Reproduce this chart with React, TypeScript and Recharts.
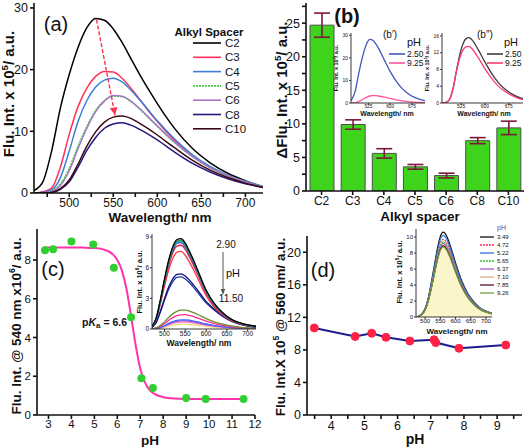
import React from 'react';
import { LineChart, Line, XAxis, YAxis, BarChart, Bar, ErrorBar, ComposedChart, Scatter, Area } from 'recharts';

const W = 524;
const H = 447;
const FONT = '"Liberation Sans", Arial, Helvetica, sans-serif';

// ---------- Panel (a): emission spectra vs alkyl spacer ----------
const WL_A = [460, 470, 480, 490, 500, 510, 520, 530, 540, 550, 560, 570, 580, 590, 600, 620, 640, 660, 680, 700, 720];
const A_C2 = [0.4, 1.8, 6.8, 13.8, 19.2, 23.6, 26.8, 28.3, 28.0, 26.6, 24.4, 21.8, 19.2, 16.8, 14.5, 10.4, 7.2, 4.9, 3.2, 2.0, 1.0];
const A_C3 = [0, 0.2, 0.8, 4.2, 9.5, 14.0, 17.0, 18.9, 19.7, 19.6, 18.6, 17.0, 15.2, 13.3, 11.6, 8.5, 6.0, 4.1, 2.8, 1.8, 1.0];
const A_C4 = [0, 0.1, 0.5, 2.5, 6.8, 11.6, 15.0, 17.2, 18.3, 18.6, 18.0, 16.7, 15.1, 13.4, 11.7, 8.7, 6.2, 4.3, 2.9, 1.9, 1.1];
const A_C5 = [0, 0, 0.3, 1.5, 4.0, 7.6, 10.8, 13.4, 15.0, 15.7, 15.6, 14.8, 13.6, 12.2, 10.8, 8.1, 5.9, 4.1, 2.8, 1.8, 1.0];
const A_C6 = [0, 0, 0.2, 1.2, 3.6, 7.2, 10.5, 13.2, 14.9, 15.8, 15.7, 14.9, 13.7, 12.3, 10.9, 8.2, 5.9, 4.1, 2.8, 1.8, 1.0];
const A_C8 = [0, 0, 0.1, 0.6, 1.8, 4.2, 6.9, 9.0, 10.5, 11.2, 11.4, 11.0, 10.3, 9.5, 8.6, 6.6, 4.8, 3.4, 2.3, 1.5, 0.9];
const A_C10 = [0, 0, 0.1, 0.7, 2.1, 4.7, 7.6, 9.9, 11.5, 12.3, 12.5, 12.1, 11.3, 10.4, 9.4, 7.3, 5.3, 3.7, 2.5, 1.6, 0.9];
const A_NAMES = ['C2', 'C3', 'C4', 'C5', 'C6', 'C8', 'C10'];
const A_VALUES = [A_C2, A_C3, A_C4, A_C5, A_C6, A_C8, A_C10];
const A_COLORS = ['#000000', '#ff3158', '#3b7fd8', '#3ccf3c', '#a874c8', '#26157c', '#3c0a14'];
const A_DASH = ['', '', '', '2 1', '', '', ''];
const A_ARROW_WL = [531, 552];
const A_ARROW_Y = [28.1, 12.6];
const A_XTICKS = [475, 500, 525, 550, 575, 600, 625, 650, 675, 700];
const A_YTICKS = [0, 10, 20, 30];

// ---------- Panel (b): bar chart ----------
const B_CATS = ['C2', 'C3', 'C4', 'C5', 'C6', 'C8', 'C10'];
const B_VALS = [24.7, 9.9, 5.6, 3.6, 2.3, 7.5, 9.4];
const B_ERR = [1.8, 0.7, 0.7, 0.35, 0.35, 0.45, 1.0];
const B_YTICKS = [0, 2.5, 5, 7.5, 10, 12.5, 15, 17.5, 20, 22.5, 25, 27.5];

// insets b' and b''
const WL_B = [465, 480, 490, 500, 510, 520, 530, 540, 550, 560, 580, 600, 620, 640, 660, 680, 700, 720];
const B1_250 = [1.0, 5.5, 12.0, 18.0, 23.0, 26.6, 28.2, 27.8, 26.3, 24.2, 19.0, 14.0, 9.8, 6.6, 4.3, 2.7, 1.7, 1.0];
const B1_925 = [0, 0.1, 0.5, 1.2, 2.0, 2.6, 3.1, 3.3, 3.3, 3.1, 2.6, 2.0, 1.4, 1.0, 0.6, 0.4, 0.25, 0.15];
const B2_250 = [0, 0.2, 1.0, 3.5, 7.5, 11.2, 13.9, 15.3, 15.6, 15.0, 12.6, 9.8, 7.2, 5.1, 3.5, 2.4, 1.6, 1.0];
const B2_925 = [0, 0.2, 1.1, 3.6, 7.4, 10.5, 12.5, 13.4, 13.5, 12.9, 10.7, 8.2, 6.0, 4.2, 2.9, 2.0, 1.3, 0.8];
const B_INSET_XTICKS = [525, 600, 675];

// ---------- Panel (c): pH titration ----------
const C_PH = [2.85, 3.2, 4.0, 4.95, 5.85, 6.6, 7.05, 7.55, 9.0, 9.85, 11.5];
const C_INT = [8.5, 8.55, 8.95, 8.8, 7.6, 5.05, 1.9, 1.4, 0.88, 0.82, 0.82];
const C_FIT_PH = [2.8, 3.5, 4, 4.5, 5, 5.4, 5.8, 6.0, 6.2, 6.4, 6.6, 6.8, 7.0, 7.2, 7.4, 7.6, 8.0, 8.5, 9, 10, 11.5];
const C_FIT_V = [8.65, 8.65, 8.65, 8.64, 8.62, 8.55, 8.3, 8.0, 7.45, 6.5, 5.1, 3.6, 2.4, 1.7, 1.3, 1.1, 0.92, 0.85, 0.83, 0.82, 0.82];

// inset c spectra
const WL_C = [470, 480, 490, 500, 510, 520, 530, 540, 550, 560, 570, 580, 600, 620, 640, 660, 680, 700, 720];
const C_S1 = [0.27, 1.06, 2.83, 4.87, 6.73, 8.05, 8.76, 8.85, 8.41, 7.61, 6.73, 5.75, 3.81, 2.48, 1.59, 0.97, 0.62, 0.40, 0.27];
const C_S2 = [0.26, 1.04, 2.78, 4.79, 6.61, 7.92, 8.61, 8.70, 8.27, 7.48, 6.61, 5.66, 3.74, 2.44, 1.57, 0.96, 0.61, 0.39, 0.26];
const C_S3 = [0.26, 1.03, 2.75, 4.73, 6.54, 7.83, 8.51, 8.60, 8.17, 7.40, 6.54, 5.59, 3.70, 2.41, 1.55, 0.95, 0.60, 0.39, 0.26];
const C_S4 = [0.25, 1.01, 2.70, 4.65, 6.42, 7.69, 8.37, 8.45, 8.03, 7.27, 6.42, 5.49, 3.63, 2.37, 1.52, 0.93, 0.59, 0.38, 0.25];
const C_S5 = [0.25, 0.98, 2.62, 4.51, 6.23, 7.46, 8.12, 8.20, 7.79, 7.05, 6.23, 5.33, 3.53, 2.30, 1.48, 0.90, 0.57, 0.37, 0.25];
const C_S6 = [0.23, 0.91, 2.43, 4.18, 5.78, 6.92, 7.52, 7.60, 7.22, 6.54, 5.78, 4.94, 3.27, 2.13, 1.37, 0.84, 0.53, 0.34, 0.23];
const C_S7 = [0.16, 0.65, 1.73, 2.97, 4.10, 4.91, 5.35, 5.40, 5.18, 4.78, 4.30, 3.78, 2.70, 1.94, 1.30, 0.81, 0.50, 0.31, 0.20];
const C_S8 = [0.15, 0.61, 1.63, 2.81, 3.88, 4.64, 5.05, 5.10, 4.90, 4.52, 4.07, 3.58, 2.56, 1.84, 1.23, 0.77, 0.47, 0.29, 0.19];
const C_S9 = [0.03, 0.12, 0.35, 0.70, 1.12, 1.48, 1.73, 1.84, 1.85, 1.76, 1.60, 1.42, 1.02, 0.70, 0.47, 0.30, 0.19, 0.12, 0.08];
const C_S10 = [0.02, 0.09, 0.27, 0.53, 0.85, 1.12, 1.31, 1.39, 1.40, 1.33, 1.21, 1.07, 0.77, 0.53, 0.35, 0.23, 0.14, 0.09, 0.06];
const C_S11 = [0.01, 0.06, 0.17, 0.34, 0.55, 0.72, 0.84, 0.89, 0.90, 0.86, 0.78, 0.69, 0.50, 0.34, 0.23, 0.15, 0.09, 0.06, 0.04];
const C_S12 = [0.01, 0.05, 0.15, 0.30, 0.48, 0.64, 0.75, 0.79, 0.80, 0.76, 0.69, 0.61, 0.44, 0.30, 0.20, 0.13, 0.08, 0.05, 0.03];
const C_S13 = [0.01, 0.04, 0.12, 0.25, 0.39, 0.52, 0.61, 0.64, 0.65, 0.62, 0.56, 0.50, 0.36, 0.25, 0.17, 0.11, 0.07, 0.04, 0.03];
const C_S14 = [0.01, 0.03, 0.09, 0.17, 0.27, 0.36, 0.42, 0.45, 0.45, 0.43, 0.39, 0.35, 0.25, 0.17, 0.12, 0.07, 0.05, 0.03, 0.02];
const C_SERIES = [C_S14, C_S13, C_S12, C_S11, C_S10, C_S9, C_S8, C_S7, C_S6, C_S5, C_S4, C_S3, C_S2, C_S1];
const C_COLORS = ['#f0e080', '#ff9cc8', '#a040c8', '#4466ff', '#ff2a8a', '#6b8c30', '#1d3aa6', '#12127a', '#ff3040', '#e01a4a', '#3050e0', '#20a0a0', '#2e8b57', '#000000'];

// ---------- Panel (d) ----------
const D_PH = [3.49, 4.72, 5.22, 5.65, 6.37, 7.10, 7.15, 7.85, 9.26];
const D_INT = [10.7, 9.65, 10.05, 9.55, 9.1, 9.25, 8.9, 8.2, 8.6];
const D_XTICKS = [3.5, 4, 4.5, 5, 5.5, 6, 6.5, 7, 7.5, 8, 8.5, 9, 9.5];
const D_YTICKS = [0, 4, 8, 12, 16, 20];

// inset d spectra
const WL_D = [470, 480, 490, 500, 510, 520, 530, 540, 550, 560, 570, 580, 600, 620, 640, 660, 680, 700, 720];
const D_349 = [0, 0.11, 0.42, 1.06, 2.33, 4.24, 6.36, 8.48, 10.07, 10.6, 10.18, 9.22, 6.78, 4.56, 2.97, 1.91, 1.17, 0.74, 0.48];
const D_472 = [0, 0.10, 0.39, 0.97, 2.13, 3.88, 5.82, 7.76, 9.22, 9.7, 9.31, 8.44, 6.21, 4.17, 2.72, 1.75, 1.07, 0.68, 0.44];
const D_522 = [0, 0.10, 0.41, 1.02, 2.24, 4.08, 6.12, 8.16, 9.69, 10.2, 9.79, 8.87, 6.53, 4.39, 2.86, 1.84, 1.12, 0.71, 0.46];
const D_565 = [0, 0.09, 0.38, 0.94, 2.07, 3.76, 5.64, 7.52, 8.93, 9.4, 9.02, 8.18, 6.02, 4.04, 2.63, 1.69, 1.03, 0.66, 0.42];
const D_637 = [0, 0.09, 0.37, 0.92, 2.02, 3.68, 5.52, 7.36, 8.74, 9.2, 8.83, 8.00, 5.89, 3.96, 2.58, 1.66, 1.01, 0.64, 0.41];
const D_710 = [0, 0.09, 0.36, 0.90, 1.98, 3.60, 5.40, 7.20, 8.55, 9.0, 8.64, 7.83, 5.76, 3.87, 2.52, 1.62, 0.99, 0.63, 0.41];
const D_785 = [0, 0.09, 0.36, 0.89, 1.96, 3.56, 5.34, 7.12, 8.46, 8.9, 8.54, 7.74, 5.70, 3.83, 2.49, 1.60, 0.98, 0.62, 0.40];
const D_926 = [0, 0.09, 0.35, 0.88, 1.93, 3.50, 5.25, 7.00, 8.31, 8.75, 8.40, 7.61, 5.60, 3.76, 2.45, 1.58, 0.96, 0.61, 0.39];
const D_NAMES = ['3.49', '4.72', '5.22', '5.65', '6.37', '7.10', '7.85', '9.26'];
const D_VALUES = [D_349, D_472, D_522, D_565, D_637, D_710, D_785, D_926];
const D_COLORS = ['#111111', '#ff2a5a', '#2f72d6', '#2ec42e', '#a85ad0', '#d8b090', '#5a1428', '#6fa040'];
const D_DASH = ['', '2 1', '', '2 1', '', '', '', ''];

// ---------- helpers ----------
const AX = { stroke: '#111', strokeWidth: 1.6 };
const AXS = { stroke: '#222', strokeWidth: 0.9 };
const tk = (fs: number) => ({ fontSize: fs, fill: '#111', fontFamily: FONT });
const mg = (x0: number, y0: number, x1: number, y1: number, yw: number, xh: number) => ({
  left: x0 - yw,
  top: y0,
  right: W - x1,
  bottom: H - y1 - xh,
});

function table(wl: number[], names: string[], vals: number[][]) {
  return wl.map((w, i) => {
    const r: any = { w };
    names.forEach((n, k) => {
      r[n] = vals[k][i];
    });
    return r;
  });
}

const Layer = ({ children }: any) => (
  <div style={{ position: 'absolute', left: 0, top: 0, width: W, height: H }}>{children}</div>
);

const rowsA = table(WL_A, A_NAMES, A_VALUES);
const arrowA = A_ARROW_WL.map((w, i) => ({ w, y: A_ARROW_Y[i] }));
const rowsB = B_CATS.map((c, i) => ({ cat: c, v: B_VALS[i], e: B_ERR[i] }));
const rowsB1 = table(WL_B, ['p250', 'p925'], [B1_250, B1_925]);
const rowsB2 = table(WL_B, ['p250', 'p925'], [B2_250, B2_925]);
const C_KEYS = C_SERIES.map((_, i) => 's' + i);
const rowsC = table(WL_C, C_KEYS, C_SERIES);
const ptsC = C_PH.map((x, i) => ({ x, y: C_INT[i] }));
const fitC = C_FIT_PH.map((x, i) => ({ x, y: C_FIT_V[i] }));
const rowsD = D_PH.map((x, i) => ({ x, y: D_INT[i] }));
const D_KEYS = D_NAMES.map((_, i) => 'd' + i);
const rowsD2 = table(WL_D, D_KEYS, D_VALUES);

const ArrowHead = (p: any) => {
  if (p.index !== 1) return <g key={p.index} />;
  const { cx, cy } = p;
  return (
    <polygon
      key={p.index}
      points={`${cx},${cy} ${cx - 5.2},${cy - 7} ${cx + 2.4},${cy - 8.3}`}
      fill="#ff3050"
    />
  );
};

const SupLabel = ({ x, y, size, pre, sup, post, rotate, weight = 'bold' }: any) => (
  <text
    x={x}
    y={y}
    fontSize={size}
    fontWeight={weight}
    fontFamily={FONT}
    textAnchor="middle"
    fill="#111"
    transform={rotate ? `rotate(-90 ${x} ${y})` : undefined}
  >
    {pre}
    <tspan fontSize={size * 0.65} dy={-size * 0.42}>
      {sup}
    </tspan>
    <tspan dy={size * 0.42}>{post}</tspan>
  </text>
);

export default function App() {
  return (
    <div style={{ position: 'absolute', left: 0, top: 0, width: W, height: H, background: '#fff', overflow: 'hidden' }}>
      {/* Panel (a) */}
      <Layer>
        <LineChart width={W} height={H} data={rowsA} margin={mg(34, 3, 263, 193, 30, 18)}>
          <XAxis
            type="number"
            dataKey="w"
            domain={[460, 720]}
            allowDataOverflow
            ticks={A_XTICKS}
            interval={0}
            tickFormatter={(v: number) => (v % 50 === 0 ? String(v) : '')}
            axisLine={AX}
            tickLine={AX}
            tickSize={4}
            tickMargin={1}
            tick={tk(12)}
            height={18}
          />
          <YAxis
            type="number"
            domain={[0, 30.8]}
            allowDataOverflow
            ticks={A_YTICKS}
            interval={0}
            axisLine={AX}
            tickLine={AX}
            tickSize={4}
            tick={tk(12.5)}
            width={30}
          />
          {A_NAMES.map((n, i) => (
            <Line
              key={n}
              dataKey={n}
              type="monotone"
              stroke={A_COLORS[i]}
              strokeWidth={1.5}
              strokeDasharray={A_DASH[i] || undefined}
              dot={false}
              isAnimationActive={false}
            />
          ))}
          <Line
            data={arrowA}
            dataKey="y"
            type="linear"
            stroke="#ff3050"
            strokeWidth={1.4}
            strokeDasharray="4 2"
            dot={ArrowHead}
            isAnimationActive={false}
          />
        </LineChart>
      </Layer>

      {/* Panel (b) */}
      <Layer>
        <BarChart width={W} height={H} data={rowsB} margin={mg(306, 3, 524, 191, 30, 18)} barSize={24}>
          <XAxis dataKey="cat" type="category" interval={0} axisLine={AX} tickLine={AX} tickSize={4} tickMargin={1} tick={tk(12)} height={18} />
          <YAxis
            type="number"
            domain={[0, 28]}
            allowDataOverflow
            ticks={B_YTICKS}
            interval={0}
            tickFormatter={(v: number) => (v % 5 === 0 ? String(v) : '')}
            axisLine={AX}
            tickLine={AX}
            tickSize={4}
            tick={tk(12.5)}
            width={30}
          />
          <Bar dataKey="v" fill="#3fd41c" stroke="#4e4e4e" strokeWidth={1} isAnimationActive={false}>
            <ErrorBar dataKey="e" width={8} stroke="#7d1838" strokeWidth={1.6} direction="y" />
          </Bar>
        </BarChart>
      </Layer>

      {/* Inset b' */}
      <Layer>
        <LineChart width={W} height={H} data={rowsB1} margin={mg(351, 33, 425, 103, 12, 7)}>
          <XAxis type="number" dataKey="w" domain={[465, 720]} allowDataOverflow ticks={B_INSET_XTICKS} interval={0} axisLine={AXS} tickLine={AXS} tickSize={2} tickMargin={0} tick={tk(4.8)} height={7} />
          <YAxis type="number" domain={[0, 31]} allowDataOverflow ticks={[0, 10, 20, 30]} interval={0} axisLine={AXS} tickLine={AXS} tickSize={2} tickMargin={1} tick={tk(5)} width={12} />
          <Line dataKey="p250" type="monotone" stroke="#4355c0" strokeWidth={1.3} dot={false} isAnimationActive={false} />
          <Line dataKey="p925" type="monotone" stroke="#ff55a0" strokeWidth={1.3} dot={false} isAnimationActive={false} />
        </LineChart>
      </Layer>

      {/* Inset b'' */}
      <Layer>
        <LineChart width={W} height={H} data={rowsB2} margin={mg(442, 33, 523, 103, 12, 7)}>
          <XAxis type="number" dataKey="w" domain={[465, 720]} allowDataOverflow ticks={B_INSET_XTICKS} interval={0} axisLine={AXS} tickLine={AXS} tickSize={2} tickMargin={0} tick={tk(4.8)} height={7} />
          <YAxis type="number" domain={[0, 16.7]} allowDataOverflow ticks={[0, 4, 8, 12, 16]} interval={0} axisLine={AXS} tickLine={AXS} tickSize={2} tickMargin={1} tick={tk(5)} width={12} />
          <Line dataKey="p250" type="monotone" stroke="#3c3c3c" strokeWidth={1.3} dot={false} isAnimationActive={false} />
          <Line dataKey="p925" type="monotone" stroke="#ff3a6e" strokeWidth={1.3} dot={false} isAnimationActive={false} />
        </LineChart>
      </Layer>

      {/* Panel (c) */}
      <Layer>
        <ComposedChart width={W} height={H} margin={mg(37, 229, 255, 415, 30, 20)}>
          <XAxis type="number" dataKey="x" domain={[2.5, 12]} allowDataOverflow ticks={[3, 4, 5, 6, 7, 8, 9, 10, 11, 12]} interval={0} axisLine={AX} tickLine={AX} tickSize={4} tickMargin={1} tick={tk(11.5)} height={20} />
          <YAxis type="number" dataKey="y" domain={[0, 9.6]} allowDataOverflow ticks={[0, 2, 4, 6, 8]} interval={0} axisLine={AX} tickLine={AX} tickSize={4} tick={tk(11.5)} width={30} />
          <Line data={fitC} dataKey="y" type="monotone" stroke="#ff33aa" strokeWidth={2} dot={false} isAnimationActive={false} />
          <Scatter
            data={ptsC}
            dataKey="y"
            isAnimationActive={false}
            shape={(p: any) => <circle cx={p.cx} cy={p.cy} r={4} fill="#30cf30" />}
          />
        </ComposedChart>
      </Layer>

      {/* Inset c */}
      <Layer>
        <LineChart width={W} height={H} data={rowsC} margin={mg(152, 234, 256, 329, 14, 9)}>
          <XAxis type="number" dataKey="w" domain={[470, 720]} allowDataOverflow ticks={[500, 550, 600, 650, 700]} interval={0} axisLine={AXS} tickLine={AXS} tickSize={2} tickMargin={0} tick={tk(6.5)} height={9} />
          <YAxis type="number" domain={[0, 9.3]} allowDataOverflow ticks={[0, 3, 6, 9]} interval={0} axisLine={AXS} tickLine={AXS} tickSize={2} tickMargin={1} tick={tk(6.5)} width={14} />
          {C_KEYS.map((k, i) => (
            <Line key={k} dataKey={k} type="monotone" stroke={C_COLORS[i]} strokeWidth={1.3} dot={false} isAnimationActive={false} />
          ))}
        </LineChart>
      </Layer>

      {/* Panel (d) */}
      <Layer>
        <LineChart width={W} height={H} data={rowsD} margin={mg(307, 236, 522, 415, 30, 20)}>
          <XAxis
            type="number"
            dataKey="x"
            domain={[3.27, 9.75]}
            allowDataOverflow
            ticks={D_XTICKS}
            interval={0}
            tickFormatter={(v: number) => (Number.isInteger(v) ? String(v) : '')}
            axisLine={AX}
            tickLine={AX}
            tickSize={4}
            tick={tk(12.5)}
            height={20}
          />
          <YAxis type="number" domain={[0, 22]} allowDataOverflow ticks={D_YTICKS} interval={0} axisLine={AX} tickLine={AX} tickSize={4} tick={tk(12.5)} width={30} />
          <Line
            dataKey="y"
            type="linear"
            stroke="#1c1c8c"
            strokeWidth={2}
            dot={{ r: 4, fill: '#ff2244', stroke: '#ff2244', strokeWidth: 1 }}
            isAnimationActive={false}
          />
        </LineChart>
      </Layer>

      {/* Inset d */}
      <Layer>
        <ComposedChart width={W} height={H} data={rowsD2} margin={mg(416, 229, 492, 317, 14, 9)}>
          <XAxis type="number" dataKey="w" domain={[470, 720]} allowDataOverflow ticks={[500, 550, 600, 650, 700]} interval={0} axisLine={AXS} tickLine={AXS} tickSize={2} tickMargin={0} tick={tk(6)} height={9} />
          <YAxis type="number" domain={[0, 11]} allowDataOverflow ticks={[0, 2, 4, 6, 8, 10]} interval={0} axisLine={AXS} tickLine={AXS} tickSize={2} tickMargin={1} tick={tk(6)} width={14} />
          <Area dataKey={D_KEYS[7]} type="monotone" fill="#fbf5cc" fillOpacity={1} stroke="none" isAnimationActive={false} />
          {D_KEYS.map((k, i) => (
            <Line key={k} dataKey={k} type="monotone" stroke={D_COLORS[i]} strokeWidth={1.2} strokeDasharray={D_DASH[i] || undefined} dot={false} isAnimationActive={false} />
          ))}
        </ComposedChart>
      </Layer>

      {/* Text overlay */}
      <svg width={W} height={H} style={{ position: 'absolute', left: 0, top: 0, pointerEvents: 'none' }}>
        {/* panel letters */}
        <text x={56} y={31} fontSize={20} fontFamily={FONT} textAnchor="middle" fill="#111">(a)</text>
        <text x={347} y={23} fontSize={20} fontFamily={FONT} fontWeight="bold" textAnchor="middle" fill="#111">(b)</text>
        <text x={53} y={276} fontSize={20} fontFamily={FONT} textAnchor="middle" fill="#111">(c)</text>
        <text x={323} y={277} fontSize={20} fontFamily={FONT} textAnchor="middle" fill="#111">(d)</text>

        {/* panel a titles */}
        <SupLabel x={14} y={94} size={15} pre="Flu. Int. x 10" sup="5" post="/ a.u." rotate />
        <text x={160} y={222} fontSize={13.5} fontWeight="bold" fontFamily={FONT} textAnchor="middle" fill="#111">Wavelength/ nm</text>
        {/* panel a legend */}
        <text x={209} y={36} fontSize={11.5} fontWeight="bold" fontFamily={FONT} textAnchor="middle" fill="#111">Alkyl Spacer</text>
        {A_NAMES.map((n, i) => (
          <g key={n}>
            <line x1={193} x2={221} y1={43 + i * 14.3} y2={43 + i * 14.3} stroke={A_COLORS[i]} strokeWidth={1.6} strokeDasharray={A_DASH[i] || undefined} />
            <text x={225} y={47 + i * 14.3} fontSize={11.5} fontFamily={FONT} fill="#111">{n}</text>
          </g>
        ))}

        {/* panel b titles */}
        <SupLabel x={287} y={90} size={15} pre="ΔFlu. Int. x 10" sup="5" post="/ a.u." rotate />
        <text x={420} y={221} fontSize={13.5} fontWeight="bold" fontFamily={FONT} textAnchor="middle" fill="#111">Alkyl spacer</text>

        {/* inset b' texts */}
        <SupLabel x={338} y={68} size={5.5} pre="Flu. Int. x 10" sup="5" post="/ a.u." rotate />
        <text x={387} y={116} fontSize={7} fontWeight="bold" fontFamily={FONT} textAnchor="middle" fill="#111">Wavelength/ nm</text>
        <text x={383} y={38} fontSize={10} fontFamily={FONT} fill="#111">(b′)</text>
        <text x={407} y={46} fontSize={11} fontFamily={FONT} fill="#111">pH</text>
        <line x1={389} x2={405} y1={54} y2={54} stroke="#4355c0" strokeWidth={1.6} />
        <text x={407} y={57} fontSize={8.5} fontFamily={FONT} fill="#111">2.50</text>
        <line x1={389} x2={405} y1={63} y2={63} stroke="#ff55a0" strokeWidth={1.6} />
        <text x={407} y={66} fontSize={8.5} fontFamily={FONT} fill="#111">9.25</text>

        {/* inset b'' texts */}
        <SupLabel x={429} y={68} size={5.5} pre="Flu. Int. x 10" sup="5" post="/ a.u." rotate />
        <text x={484} y={116} fontSize={7} fontWeight="bold" fontFamily={FONT} textAnchor="middle" fill="#111">Wavelength/ nm</text>
        <text x={477} y={38} fontSize={10} fontFamily={FONT} fill="#111">(b″)</text>
        <text x={504} y={46} fontSize={11} fontFamily={FONT} fill="#111">pH</text>
        <line x1={487} x2={503} y1={54} y2={54} stroke="#3c3c3c" strokeWidth={1.6} />
        <text x={505} y={57} fontSize={8.5} fontFamily={FONT} fill="#111">2.50</text>
        <line x1={487} x2={503} y1={63} y2={63} stroke="#ff3a6e" strokeWidth={1.6} />
        <text x={505} y={66} fontSize={8.5} fontFamily={FONT} fill="#111">9.25</text>

        {/* panel c titles */}
        <SupLabel x={21} y={326} size={13.5} pre="Flu. Int. @ 540 nm x10" sup="6" post="/ a.u." rotate />
        <text x={150} y={445} fontSize={13.5} fontWeight="bold" fontFamily={FONT} textAnchor="middle" fill="#111">pH</text>
        <text x={82} y={326} fontSize={10.5} fontWeight="bold" fontFamily={FONT} fill="#111">
          p<tspan fontStyle="italic">K</tspan>
          <tspan fontSize={8} dy={2}>a</tspan>
          <tspan dy={-2}> = 6.6</tspan>
        </text>

        {/* inset c texts */}
        <SupLabel x={142} y={282} size={7.5} pre="Flu. Int. x 10" sup="6" post="/ a.u." rotate />
        <text x={199} y={346} fontSize={8.5} fontWeight="bold" fontFamily={FONT} textAnchor="middle" fill="#111">Wavelength/ nm</text>
        <text x={226} y={248} fontSize={10} fontFamily={FONT} textAnchor="middle" fill="#111">2.90</text>
        <line x1={223} x2={223} y1={252} y2={290} stroke="#555" strokeWidth={1} />
        <polygon points="223,295 220.8,289 225.2,289" fill="#555" />
        <text x={226} y={277} fontSize={11} fontFamily={FONT} fill="#111">pH</text>
        <text x={231} y={302} fontSize={10} fontFamily={FONT} textAnchor="middle" fill="#111">11.50</text>

        {/* panel d titles */}
        <SupLabel x={285} y={327} size={13.5} pre="Flu. Int.X 10" sup="5" post=" @ 560 nm/ a.u." rotate />
        <text x={415} y={444} fontSize={14} fontWeight="bold" fontFamily={FONT} textAnchor="middle" fill="#111">pH</text>

        {/* inset d texts */}
        <SupLabel x={402} y={272} size={7.5} pre="Flu. Int. x 10" sup="5" post="/ a.u." rotate />
        <text x={457} y={334} fontSize={8} fontWeight="bold" fontFamily={FONT} textAnchor="middle" fill="#111">Wavelength/ nm</text>
        <text x={497} y={230} fontSize={7} fontFamily={FONT} fill="#6a3d8a">pH</text>
        {D_NAMES.map((n, i) => (
          <g key={n}>
            <line x1={480} x2={494} y1={237 + i * 8} y2={237 + i * 8} stroke={D_COLORS[i]} strokeWidth={1.3} strokeDasharray={D_DASH[i] || undefined} />
            <text x={497} y={239.2 + i * 8} fontSize={6} fontFamily={FONT} fill="#111">{n}</text>
          </g>
        ))}
      </svg>
    </div>
  );
}
